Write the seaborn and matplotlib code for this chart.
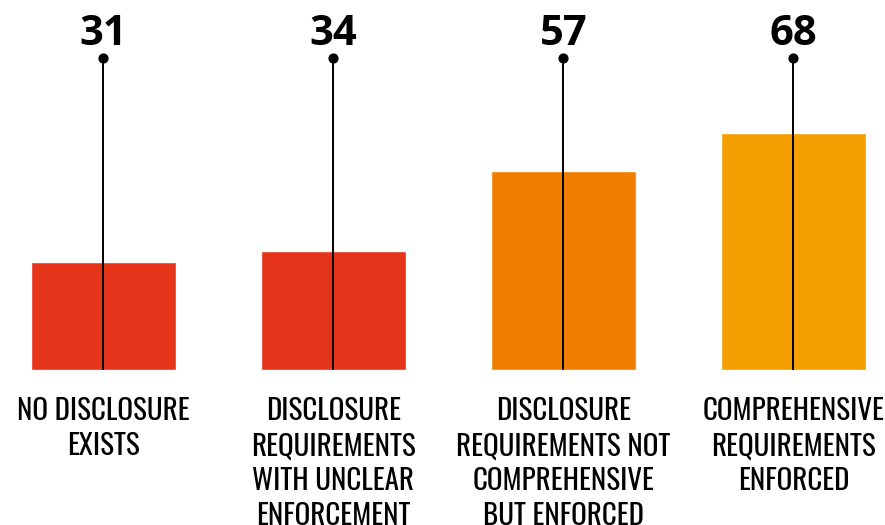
import seaborn as sns
import matplotlib.pyplot as plt
from matplotlib import font_manager

categories = ['NO DISCLOSURE\nEXISTS',
              'DISCLOSURE\nREQUIREMENTS\nWITH UNCLEAR\nENFORCEMENT',
              'DISCLOSURE\nREQUIREMENTS NOT\nCOMPREHENSIVE\nBUT ENFORCED',
              'COMPREHENSIVE\nREQUIREMENTS\nENFORCED']
values = [31, 34, 57, 68]
colors = ['#E5341A', '#E5341A', '#EF7D00', '#F49F00']

# pick a narrow face for the category labels if one is there
names = set(f.name for f in font_manager.fontManager.ttflist)
label_font = 'Roboto'
for cand in ['Oswald', 'Roboto Condensed', 'Open Sans Condensed',
             'Liberation Sans Narrow', 'DejaVu Sans Condensed']:
    if cand in names:
        label_font = cand
        break

sns.set_style('white')
fig = plt.figure(figsize=(8.85, 5.25), dpi=100)
ax = fig.add_axes([0, 0, 1, 1])

sns.barplot(x=list(range(len(values))), y=values, hue=list(range(len(values))),
            palette=colors, width=0.63, legend=False, saturation=1, ax=ax)

ax.set_xlim(-0.45, 3.398)
ax.set_ylim(-44.4, 106.0)
ax.axis('off')

# stems with a dot on top, numbers above
stem_top = 89.4
ax.vlines(range(len(values)), 0, stem_top, color='black', lw=1.4, zorder=3)
ax.scatter(range(len(values)), [stem_top] * len(values), s=40, color='black', zorder=4)
for i, v in enumerate(values):
    ax.text(i, 93.1, str(v), ha='center', va='baseline', fontsize=30,
            fontweight='bold', family='Open Sans', color='black')

# size the labels so the widest line is about 214 px wide
renderer = fig.canvas.get_renderer()
probe = fig.text(0, 0, 'REQUIREMENTS NOT', fontsize=24, family=label_font)
w = probe.get_window_extent(renderer).width
probe.remove()
label_size = min(24, 24 * 214 / w)

px = 3.49  # pixels per data unit
for i, lab in enumerate(categories):
    for k, line in enumerate(lab.split('\n')):
        ax.text(i, (-50 - 35 * k) / px, line, ha='center', va='baseline',
                fontsize=label_size, family=label_font, color='black')

fig.savefig('out.png', dpi=100)
